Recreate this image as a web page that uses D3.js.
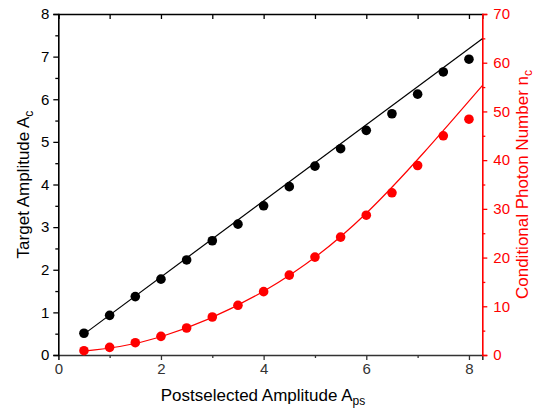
<!DOCTYPE html>
<html>
<head>
<meta charset="utf-8">
<script src="https://cdn.jsdelivr.net/npm/d3@7"></script>
<style>
  body { margin: 0; background: #fff; }
  text { font-family: "Liberation Sans", Arial, sans-serif; }
</style>
</head>
<body>
<div id="chart"></div>
<script>
// Postselected amplitude values
const ampPs = [0.5, 1, 1.5, 2, 2.5, 3, 3.5, 4, 4.5, 5, 5.5, 6, 6.5, 7, 7.5, 8];
// Target amplitude A_c (left axis)
const ampC = [0.51, 0.93, 1.37, 1.78, 2.23, 2.68, 3.07, 3.50, 3.95, 4.43, 4.84, 5.27, 5.66, 6.12, 6.64, 6.94];
// Conditional photon number n_c (right axis)
const photonN = [0.88, 1.57, 2.53, 3.83, 5.54, 7.8, 10.2, 13.0, 16.4, 20.1, 24.2, 28.7, 33.3, 38.9, 45.0, 48.4];

// fit lines
const fitAmpX = [0.5, 8.26];
const fitAmpY = [0.49, 7.42];
const fitNX = [0.5, 2, 4, 6, 8.26];
const fitNY = [0.8, 3.75, 13.1, 29.1, 55.3];

const xTicks = [0, 2, 4, 6, 8];
const xMinor = [1, 3, 5, 7];
const yTicks = [0, 1, 2, 3, 4, 5, 6, 7, 8];
const yMinor = [0.5, 1.5, 2.5, 3.5, 4.5, 5.5, 6.5, 7.5];
const nTicks = [0, 10, 20, 30, 40, 50, 60, 70];
const nMinor = [5, 15, 25, 35, 45, 55, 65];

const width = 535, height = 409;
const margin = { left: 58.3, top: 14, right: 535 - 482.3, bottom: 409 - 355 };
const red = "#ff0000";

const svg = d3.select("#chart").append("svg")
  .attr("width", width)
  .attr("height", height);

const x = d3.scaleLinear().domain([0, 8.26]).range([margin.left, width - margin.right]);
const y = d3.scaleLinear().domain([0, 8]).range([height - margin.bottom, margin.top]);
const yR = d3.scaleLinear().domain([0, 70]).range([height - margin.bottom, margin.top]);

function styleAxis(g, color, size) {
  g.select(".domain").attr("stroke", color).attr("stroke-width", 1.6);
  g.selectAll(".tick line").attr("stroke", color).attr("stroke-width", 1.3);
  g.selectAll(".tick text").attr("fill", color).style("font-size", size + "px");
}

// bottom axis
const gx = svg.append("g").attr("transform", `translate(0,${y(0)})`)
  .call(d3.axisBottom(x).tickValues(xTicks).tickSizeOuter(0).tickSize(5).tickPadding(3));
styleAxis(gx, "#333", 15);
svg.append("g").attr("transform", `translate(0,${y(0)})`)
  .call(d3.axisBottom(x).tickValues(xMinor).tickSizeOuter(0).tickSize(3).tickFormat(""))
  .call(g => { g.select(".domain").remove(); g.selectAll("line").attr("stroke", "#333").attr("stroke-width", 1.3); });

// top axis, ticks inside
const gt = svg.append("g").attr("transform", `translate(0,${margin.top})`)
  .call(d3.axisTop(x).tickValues(xTicks.concat(xMinor)).tickSizeOuter(0).tickSize(-5).tickFormat(""));
styleAxis(gt, "#000", 15);

// left axis
const gy = svg.append("g").attr("transform", `translate(${margin.left},0)`)
  .call(d3.axisLeft(y).tickValues(yTicks).tickSizeOuter(0).tickSize(5).tickPadding(4));
styleAxis(gy, "#000", 15);
svg.append("g").attr("transform", `translate(${margin.left},0)`)
  .call(d3.axisLeft(y).tickValues(yMinor).tickSizeOuter(0).tickSize(3).tickFormat(""))
  .call(g => { g.select(".domain").remove(); g.selectAll("line").attr("stroke", "#000").attr("stroke-width", 1.3); });

// right axis, red
const gr = svg.append("g").attr("transform", `translate(${width - margin.right},0)`)
  .call(d3.axisRight(yR).tickValues(nTicks).tickSizeOuter(0).tickSize(5).tickPadding(6));
styleAxis(gr, red, 15);
svg.append("g").attr("transform", `translate(${width - margin.right},0)`)
  .call(d3.axisRight(yR).tickValues(nMinor).tickSizeOuter(0).tickSize(3).tickFormat(""))
  .call(g => { g.select(".domain").remove(); g.selectAll("line").attr("stroke", red).attr("stroke-width", 1.3); });

// fit lines
const ampLine = d3.line().x(d => x(d[0])).y(d => y(d[1]));
svg.append("path")
  .datum(d3.zip(fitAmpX, fitAmpY))
  .attr("d", ampLine)
  .attr("fill", "none").attr("stroke", "#000").attr("stroke-width", 1.2);

const nLine = d3.line().x(d => x(d[0])).y(d => yR(d[1])).curve(d3.curveNatural);
svg.append("path")
  .datum(d3.zip(fitNX, fitNY))
  .attr("d", nLine)
  .attr("fill", "none").attr("stroke", red).attr("stroke-width", 1.2);

// points
svg.append("g").selectAll("circle")
  .data(d3.zip(ampPs, ampC))
  .join("circle")
  .attr("cx", d => x(d[0])).attr("cy", d => y(d[1])).attr("r", 4.8)
  .attr("fill", "#000");

svg.append("g").selectAll("circle")
  .data(d3.zip(ampPs, photonN))
  .join("circle")
  .attr("cx", d => x(d[0])).attr("cy", d => yR(d[1])).attr("r", 4.8)
  .attr("fill", red);

// axis titles
const xt = svg.append("text")
  .attr("x", 263).attr("y", 401)
  .attr("text-anchor", "middle")
  .style("font-size", "17px").attr("fill", "#000");
xt.append("tspan").text("Postselected Amplitude A");
xt.append("tspan").attr("dy", 4).style("font-size", "12px").text("ps");

const yt = svg.append("text")
  .attr("transform", `translate(29,${(margin.top + y(0)) / 2}) rotate(-90)`)
  .attr("text-anchor", "middle")
  .style("font-size", "17px").attr("fill", "#000");
yt.append("tspan").text("Target Amplitude A");
yt.append("tspan").attr("dy", 4).style("font-size", "12px").text("c");

const rt = svg.append("text")
  .attr("transform", `translate(528,${(margin.top + y(0)) / 2}) rotate(-90)`)
  .attr("text-anchor", "middle")
  .style("font-size", "17px").attr("fill", red);
rt.append("tspan").text("Conditional Photon Number n");
rt.append("tspan").attr("dy", 4).style("font-size", "12px").text("c");
</script>
</body>
</html>
